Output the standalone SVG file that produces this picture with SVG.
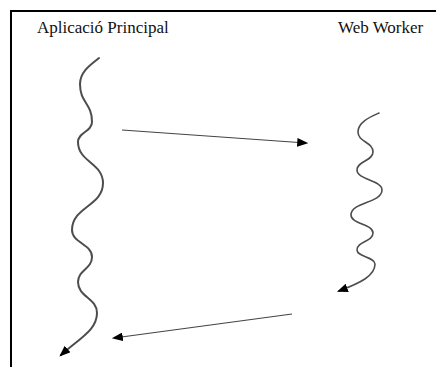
<svg xmlns="http://www.w3.org/2000/svg" width="436" height="367" viewBox="0 0 436 367">
  <style>
    .label { font-family: "Liberation Serif", "Times New Roman", serif; font-size: 17px; fill: #111; }
    .frame { fill: none; stroke: #000; stroke-width: 2; }
    .thread { fill: none; stroke: #4d4d4d; stroke-linecap: round; }
    .msg { fill: none; stroke: #444; stroke-width: 1.2; }
  </style>
  <defs>
    <marker id="head" viewBox="0 0 10 8" refX="8" refY="4" markerWidth="11" markerHeight="8.8" markerUnits="userSpaceOnUse" orient="auto">
      <path d="M0,0 L10,4 L0,8 z" fill="#000"/>
    </marker>
  </defs>
  <rect width="436" height="367" fill="#fff"/>
  <path class="frame" d="M11,367 V11 H436"/>

  <g id="main-app">
    <text class="label" x="37" y="33">Aplicació Principal</text>
  </g>
  <g id="web-worker">
    <text class="label" x="338" y="33">Web Worker</text>
  </g>

  <g id="connectors">
    <!-- main thread timeline -->
    <path class="thread" stroke-width="2" marker-end="url(#head)"
      d="M99,58 C90,65 80,72 80,84 C80,103 92,103 92,122 C92,132 78,132 78,142 C78,162 103,163 103,183 C103,206 72,207 72,230 C72,243 92,244 92,257 C92,269 78,270 78,282 C78,297 97,298 97,313 C97,330 80,338 61,355"/>
    <!-- worker thread timeline -->
    <path class="thread" stroke-width="1.6" marker-end="url(#head)"
      d="M379,113 C370,117 358,122 358,132 C358,142 373,142 373,152 C373,161 357,161 357,170 C357,180 382,180 382,190 C382,203 351,202 351,215 C351,224 373,224 373,233 C373,242 357,241 357,250 C357,257 375,257 375,264 C375,276 360,283 339,291"/>
    <!-- postMessage to worker -->
    <path class="msg" marker-end="url(#head)" d="M122,130 L306,143"/>
    <!-- reply back to main -->
    <path class="msg" marker-end="url(#head)" d="M292,314 L114,338"/>
  </g>
</svg>
